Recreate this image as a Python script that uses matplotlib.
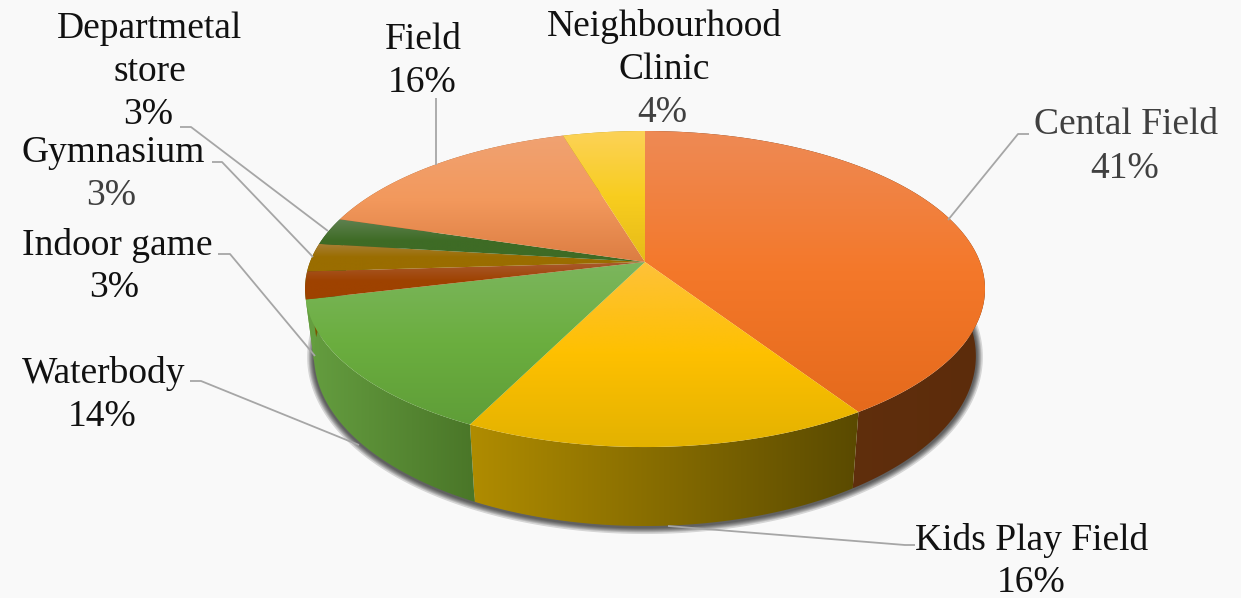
"""3D land-use pie drawn as a perspective projection of a unit circle."""
import matplotlib
matplotlib.use("Agg")
import matplotlib.pyplot as plt
import numpy as np
from matplotlib.colors import LinearSegmentedColormap
from matplotlib.patches import Polygon

# clockwise from 12 o'clock
categories = ["Cental Field", "Kids Play Field", "Waterbody", "Indoor game",
              "Gymnasium", "Departmetal store", "Field", "Neighbourhood Clinic"]
values = [40.85, 16.5, 13.95, 2.8, 2.9, 2.8, 15.7, 4.6]
pct_labels = ["41%", "16%", "14%", "3%", "3%", "3%", "16%", "4%"]

top_colors = [
    ["#ee8a55", "#f4782a", "#e56a1c"],
    ["#fec23a", "#fec000", "#e3b200"],
    ["#7cb65e", "#6bae3f", "#5f9e38"],
    ["#a95a2e", "#9e4200", "#9e4200"],
    ["#a88038", "#9a6d00", "#9a6d00"],
    ["#5f8150", "#3e6b25", "#3e6b25"],
    ["#f0a272", "#f3995d", "#dc7d42"],
    ["#fcd257", "#f8cd1f", "#e6bb18"],
]
side_colors = [
    ["#663210", "#5c2c0b"],
    ["#b08c00", "#5a4a00"],
    ["#659e40", "#4a7628"],
    ["#659e40", "#659e40"],  # the waterbody wall hides this one in the reference
    ["#7a5600", "#7a5600"],
    ["#33551e", "#33551e"],
    ["#a8602f", "#a8602f"],
    ["#b89510", "#b89510"],
]

# text, x centre, baseline y, colour
BLACK = "#111111"
GREY = "#404040"
label_lines = [
    ("Departmetal", 150, 38, BLACK), ("store", 150, 81, BLACK), ("3%", 148, 124, BLACK),
    ("Gymnasium", 113, 162, BLACK), ("3%", 111, 205, GREY),
    ("Indoor game", 117, 255, BLACK), ("3%", 114, 297, BLACK),
    ("Waterbody", 104, 383, BLACK), ("14%", 102, 426, BLACK),
    ("Field", 423, 49, BLACK), ("16%", 422, 92, BLACK),
    ("Neighbourhood", 664, 36, BLACK), ("Clinic", 664, 79, BLACK), ("4%", 662, 122, GREY),
    ("Cental Field", 1126, 134, GREY), ("41%", 1125, 178, GREY),
    ("Kids Play Field", 1032, 550, BLACK), ("16%", 1031, 592, BLACK),
]

leaders = [
    [(180, 127), (191, 127), (328, 231)],
    [(212, 162), (222, 162), (313, 257)],
    [(218, 254), (230, 254), (315, 356)],
    [(190, 381), (201, 381), (359, 445)],
    [(915, 545), (905, 545), (668, 526)],
    [(1029, 134), (1018, 134), (948, 220)],
    [(436, 98), (436, 165)],
]

KX = 0.171  # perspective strength
TOP = dict(cx=645, cy=262, a=335, b=153.4)
BOTTOM = dict(cx=645, cy=327, a=326, b=165)


def project(theta, ring):
    u, v = np.sin(theta), np.cos(theta)
    w = 1 + KX * v
    return np.column_stack([ring["cx"] + ring["a"] * u / w, ring["cy"] - ring["b"] * v / w])


def gradient_fill(ax, pts, colors, horizontal=False, zorder=2):
    patch = Polygon(pts, closed=True, facecolor="none", edgecolor="none", zorder=zorder)
    ax.add_patch(patch)
    cmap = LinearSegmentedColormap.from_list("g", colors)
    ramp = np.linspace(0, 1, 256)
    ramp = ramp[None, :] if horizontal else ramp[:, None]
    x0, y0 = pts.min(axis=0)
    x1, y1 = pts.max(axis=0)
    im = ax.imshow(ramp, cmap=cmap, extent=(x0, x1, y1, y0), aspect="auto",
                   interpolation="bilinear", zorder=zorder)
    im.set_clip_path(patch)


fig = plt.figure(figsize=(12.41, 5.98), dpi=100, facecolor="#f9f9f9")
ax = fig.add_axes([0, 0, 1, 1])
ax.set_axis_off()

# soft shadow round the lower rim
rim = project(np.linspace(0, 2 * np.pi, 400), BOTTOM)
for lw in [14, 11, 9, 7, 5, 3]:
    ax.add_patch(Polygon(rim + [0, 1], closed=True, facecolor="none", edgecolor="black",
                         linewidth=lw * 0.72, alpha=0.14, zorder=1))

edges = np.cumsum([0] + values) / sum(values) * 2 * np.pi
for i in range(len(values)):
    theta = np.linspace(edges[i], edges[i + 1], 120)
    side = np.vstack([project(theta, TOP), project(theta[::-1], BOTTOM)])
    gradient_fill(ax, side, side_colors[i], horizontal=True, zorder=2)
for i in range(len(values)):
    theta = np.linspace(edges[i], edges[i + 1], 120)
    face = np.vstack([[[TOP["cx"], TOP["cy"]]], project(theta, TOP)])
    gradient_fill(ax, face, top_colors[i], zorder=3)

for pts in leaders:
    xs, ys = zip(*pts)
    ax.plot(xs, ys, color="#a6a6a6", linewidth=1.3, zorder=4, solid_capstyle="butt")

for text, x, y, color in label_lines:
    ax.text(x, y, text, ha="center", va="baseline", fontsize=27,
            family="Liberation Serif", color=color, zorder=5)

ax.set_xlim(0, 1241)
ax.set_ylim(598, 0)
fig.savefig("out.png", dpi=100, facecolor=fig.get_facecolor())
plt.close(fig)
